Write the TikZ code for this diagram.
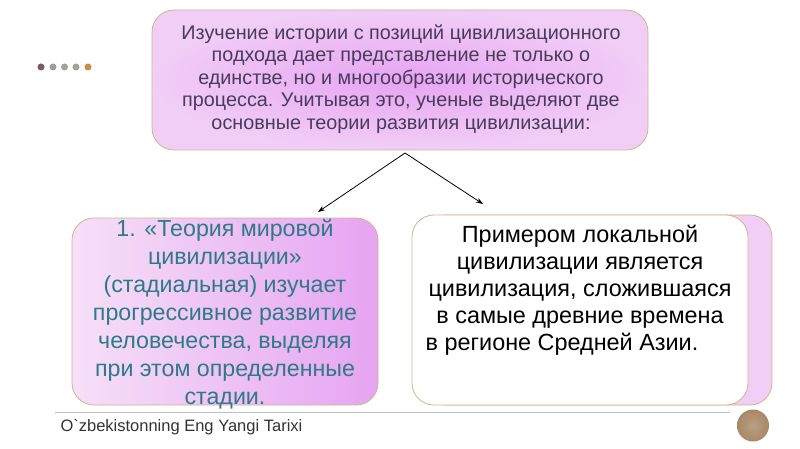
\documentclass[tikz,border=0pt]{standalone}
\usepackage{fontspec}
\setmainfont{Liberation Sans}
\usetikzlibrary{arrows.meta}
\definecolor{bordertan}{HTML}{D2B48C}
\definecolor{toptext}{HTML}{4A3A5C}
\definecolor{lefttext}{HTML}{2E7A86}
\definecolor{lavA}{HTML}{F6E0F8}
\definecolor{lavB}{HTML}{E6A4F2}
\definecolor{dotA}{HTML}{7A5A62}
\definecolor{dotB}{HTML}{A39C9E}
\definecolor{dotC}{HTML}{A2A49A}
\definecolor{dotD}{HTML}{9DA596}
\definecolor{dotE}{HTML}{D08A42}
\definecolor{circA}{HTML}{A88866}
\tikzset{
  boxbase/.style={draw=bordertan, line width=0.8pt, rounded corners=22pt},
  conn/.style={-{Stealth[length=7pt,width=5pt]}, line width=0.8pt, black},
  dotstyle/.style={circle, inner sep=0pt, minimum size=7pt}
}
\begin{document}
\begin{tikzpicture}[x=1pt,y=-1pt]
\useasboundingbox (0,0) rectangle (800,449);
\fill[white] (0,0) rectangle (800,449);
% dots
\node[dotstyle, fill=dotA] (d1) at (41,67) {};
\node[dotstyle, fill=dotB] (d2) at (53,67) {};
\node[dotstyle, fill=dotC] (d3) at (64.5,67) {};
\node[dotstyle, fill=dotD] (d4) at (76,67) {};
\node[dotstyle, fill=dotE] (d5) at (88,67) {};
% top box
\path[boxbase, inner color=lavB, outer color=lavA!70!lavB] (152,10) rectangle (648,150);
\node[text=toptext, align=center, font=\fontsize{19.8}{22.5}\selectfont] (top) at (401,79)
{Изучение истории с позиций цивилизационного\\
подхода дает представление не только о\\
единстве, но и многообразии исторического\\
процесса. Учитывая это, ученые выделяют две\\
основные теории развития цивилизации:};
\coordinate (src) at (405,153);
% left box
\path[boxbase, left color=lavA, right color=lavB] (72,218) rectangle (378,405);
\node[text=lefttext, align=center, font=\fontsize{23.2}{27.9}\selectfont] (left) at (225,314)
{1. «Теория мировой\\
цивилизации»\\
(стадиальная) изучает\\
прогрессивное развитие\\
человечества, выделяя\\
при этом определенные\\
стадии.};
% right box
\path[boxbase, fill=lavA!70!lavB] (425,215) rectangle (772,405);
\path[boxbase, fill=white] (412,215) rectangle (748,405);
\node[text=black, align=center, font=\fontsize{23.4}{26.9}\selectfont] (right) at (580,290)
{Примером локальной\\
цивилизации является\\
цивилизация, сложившаяся\\
в самые древние времена\\
в регионе Средней Азии.\makebox[36pt]{}};
\coordinate (lt) at (318,212);
\coordinate (rt) at (483,204);
\draw[conn] (src) -- (lt);
\draw[conn] (src) -- (rt);
% footer
\draw[black!25, line width=0.6pt] (55,412) -- (730,412);
\node[anchor=west, text=black!80, font=\fontsize{16.5}{18}\selectfont\addfontfeatures{Ligatures=TeXOff}] (foot) at (57,427) {O`zbekistonning Eng Yangi Tarixi};
\node[circle, inner sep=0pt, minimum size=32pt, inner color=circA!80, outer color=circA] (circ) at (753,425.5) {};
\end{tikzpicture}
\end{document}
